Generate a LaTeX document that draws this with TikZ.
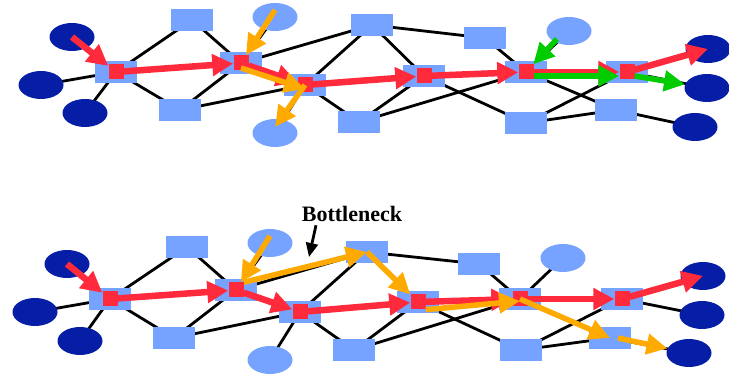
\documentclass[tikz,border=0pt]{standalone}
\usepackage{fontspec}
\setmainfont{Liberation Serif}
\usepackage{tikz}
\usetikzlibrary{arrows.meta}
\usetikzlibrary{shapes, backgrounds}

\definecolor{hostblue}{RGB}{5,30,165}
\definecolor{linkblue}{RGB}{117,163,255}
\definecolor{flowred}{RGB}{255,42,60}
\definecolor{floworange}{RGB}{255,170,0}
\definecolor{flowgreen}{RGB}{0,204,0}

\begin{document}
\begin{tikzpicture}[x=1pt, y=-1pt,
				   host/.style={ellipse, fill=hostblue, minimum width=45pt, minimum height=28pt, inner sep=0pt},
				   peer/.style={ellipse, fill=linkblue, minimum width=45pt, minimum height=28pt, inner sep=0pt},
				   router/.style={rectangle, fill=linkblue, minimum width=42pt, minimum height=22pt, inner sep=0pt},
				   hop/.style={rectangle, fill=flowred, minimum size=15pt, inner sep=0pt},
				   link/.style={line width=2.8pt},
				   redflow/.style={line width=6.5pt, flowred, -{Triangle[length=21pt,width=21pt]}},
				   orangeflow/.style={line width=5.5pt, floworange, -{Triangle[length=21pt,width=20pt]}},
				   greenflow/.style={line width=5.5pt, flowgreen, -{Triangle[length=21pt,width=20pt]}}]
\useasboundingbox (0,0) rectangle (729,374);

% upper network
\node[host] (ts1) at (72,37) {};
\node[host] (ts2) at (41,85) {};
\node[host] (ts3) at (85,113) {};
\node[router] (tr1) at (116,72) {};
\node[router] (ta) at (192,20) {};
\node[router] (tb) at (180,110) {};
\node[router] (tr2) at (241,63) {};
\node[peer] (tc) at (275,17) {};
\node[router] (tr3) at (305,85) {};
\node[peer] (td) at (275,133) {};
\node[router] (te) at (359,122) {};
\node[router] (tf) at (372,25) {};
\node[router] (tr4) at (424,76) {};
\node[router] (tg) at (485,38) {};
\node[peer] (th) at (569,31) {};
\node[router] (tr5) at (526,72) {};
\node[router] (ti) at (526,123) {};
\node[router] (tr6) at (627,72) {};
\node[router] (tj) at (616,110) {};
\node[host] (tk1) at (708,49) {};
\node[host] (tk2) at (707,88) {};
\node[host] (tk3) at (695,127) {};

% lower network
\node[host] (bs1) at (67,264) {};
\node[host] (bs2) at (35,312) {};
\node[host] (bs3) at (80,341) {};
\node[router] (br1) at (110,299) {};
\node[router] (ba) at (187,247) {};
\node[router] (bb) at (174,338) {};
\node[router] (br2) at (236,290) {};
\node[peer] (bc) at (270,243) {};
\node[router] (br3) at (300,312) {};
\node[peer] (bd) at (270,360) {};
\node[router] (be) at (354,350) {};
\node[router] (bf) at (367,252) {};
\node[router] (br4) at (418,302) {};
\node[router] (bg) at (479,264) {};
\node[peer] (bh) at (563,258) {};
\node[router] (br5) at (520,299) {};
\node[router] (bi) at (521,350) {};
\node[router] (br6) at (622,299) {};
\node[router] (bj) at (610,338) {};
\node[host] (bk1) at (703,276) {};
\node[host] (bk2) at (702,315) {};
\node[host] (bk3) at (689,353) {};

% links behind the nodes
\begin{pgfonlayer}{background}
\foreach \net in {t,b}{
	\foreach \u/\v in {s1/r1, s2/r1, s3/r1, r1/a, r1/b, r1/r2, a/r2, b/r2, b/r3, c/r2,
	                   r2/f, r2/r3, r3/d, r3/f, r3/e, r3/r4, f/g, f/r4, g/r5, h/r5,
	                   r4/r5, r4/i, e/r5, e/r4, r5/j, i/r6, i/j, r5/r6, r6/k1, r6/k2, j/k3}
		\draw[link] (\net\u.center) -- (\net\v.center);
}
\end{pgfonlayer}

% red path: hops on the routers
\foreach \net in {t,b}{
	\foreach \i in {1,...,6}
		\node[hop] (\net q\i) at (\net r\i) {};
	\draw[redflow] (\net s1.center) -- (\net q1);
	\foreach \u/\v in {q1/q2, q2/q3, q3/q4, q4/q5, q5/q6}
		\draw[redflow] (\net\u) -- (\net\v);
	\draw[redflow] (\net q6) -- (\net k1.center);
}

% cross traffic, upper
\draw[orangeflow] ([yshift=7pt]tc.center) -- (tq2);
\draw[orangeflow] ([yshift=-5pt]tq2.center) -- ([yshift=-4pt]tq3.center);
\draw[orangeflow] (tq3.center) -- ([yshift=6pt]td.center);
\draw[greenflow] ([shift={(4pt,2pt)}]th.south west) -- (tq5);
\draw[greenflow] ([yshift=-4pt]tq5.east) -- ([yshift=-4pt]tq6.west);
\draw[greenflow] ([yshift=-4pt]tq6.east) -- (tk2);

% cross traffic, lower
\draw[orangeflow] ([yshift=7pt]bc.center) -- (bq2);
\draw[orangeflow] (bq2.north east) -- (bf.center);
\draw[orangeflow] (bf.center) -- (bq4);
\draw[orangeflow] (bq4.south east) -- ([yshift=-2pt]bq5.center);
\draw[orangeflow] (bq5.center) -- (bj.center);
\draw[orangeflow] ([xshift=8pt]bj.center) -- (bk3);

\node[font=\bfseries\fontsize{22}{24}\selectfont] (neck) at (352,214) {Bottleneck};
\coordinate (squeeze) at (309,257);
\draw[line width=2.8pt, -{Triangle[length=14pt,width=12pt]}] ([xshift=-36pt]neck.south) -- (squeeze);
\end{tikzpicture}
\end{document}
